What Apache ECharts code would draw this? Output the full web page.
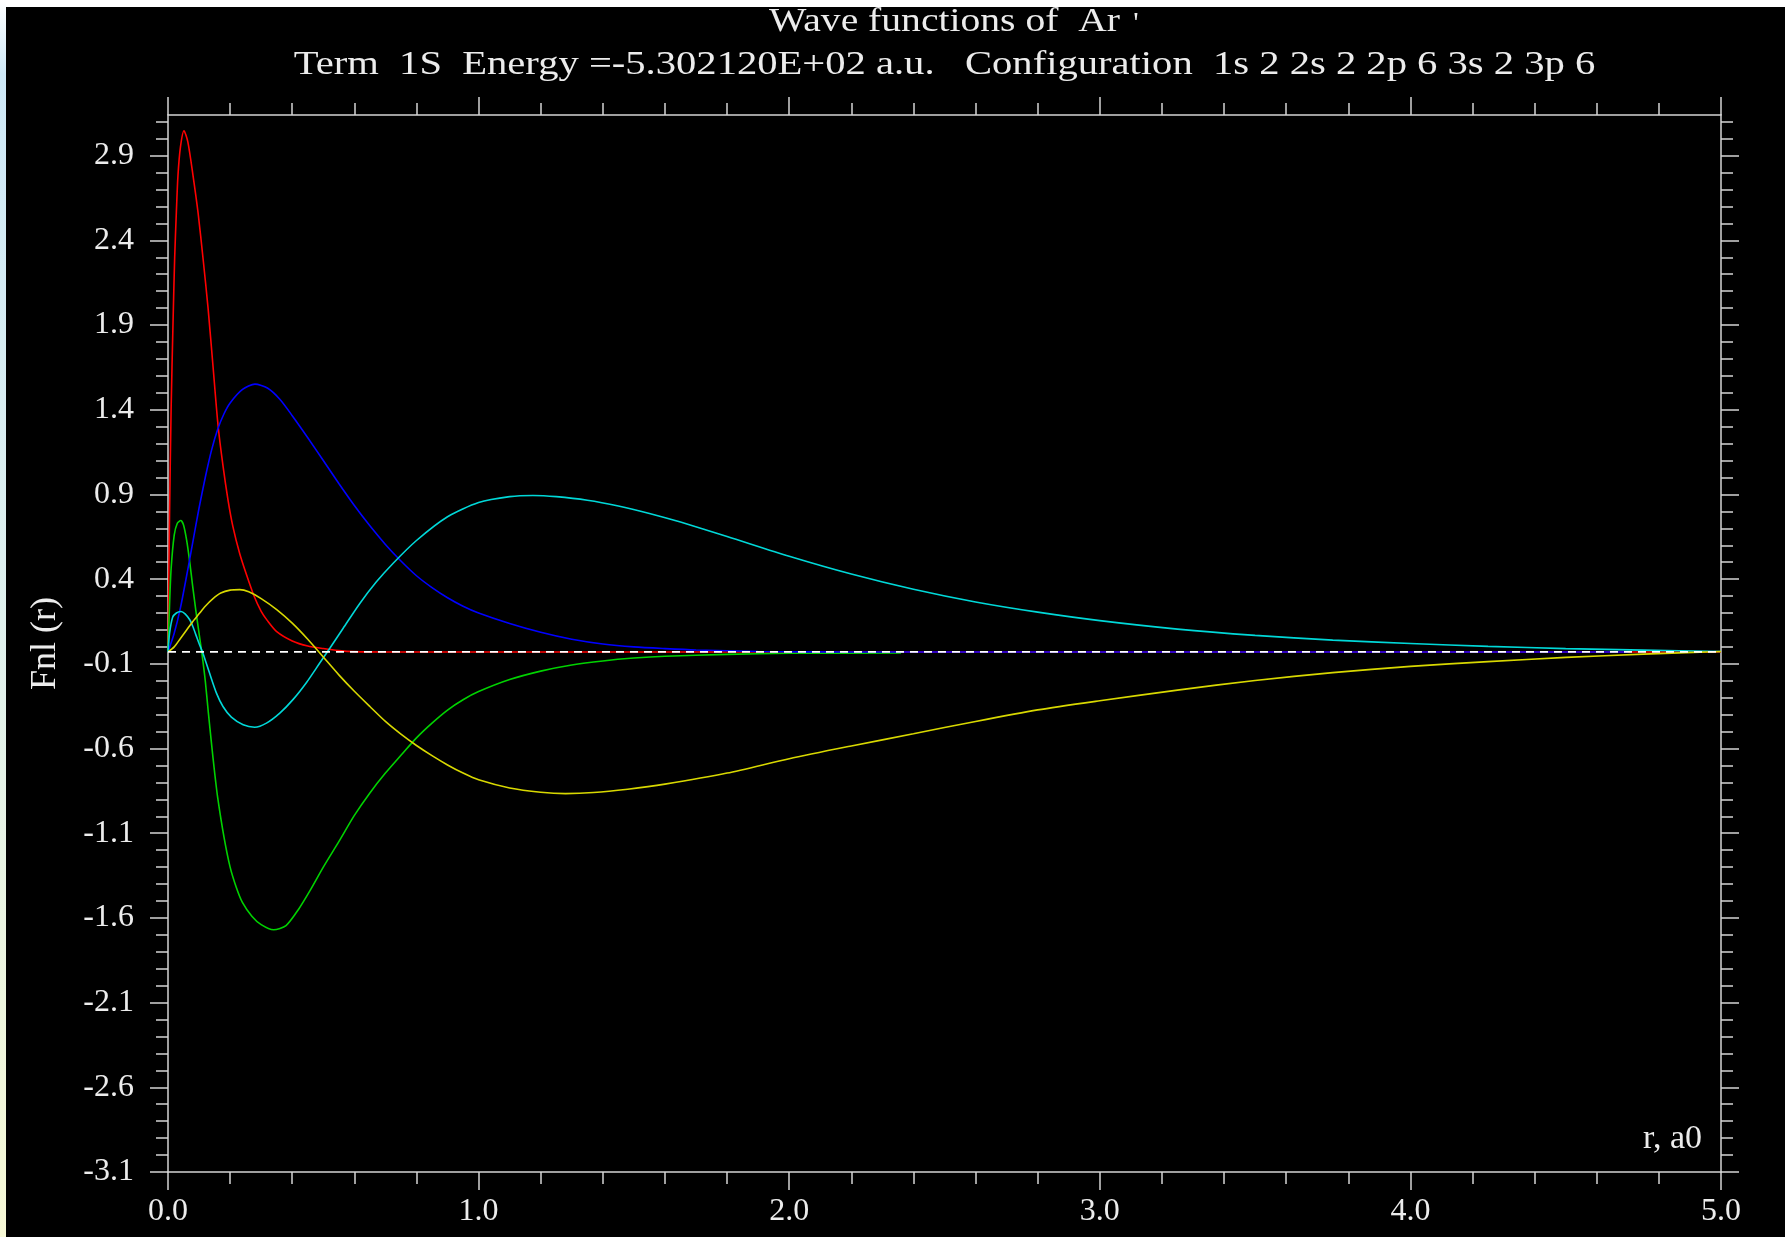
<!DOCTYPE html>
<html>
<head>
<meta charset="utf-8">
<title>Wave functions of Ar</title>
<script src="https://cdn.jsdelivr.net/npm/echarts@6/dist/echarts.min.js"></script>
<style>
  html, body { margin: 0; padding: 0; background: #000; }
  #chart { width: 1785px; height: 1237px; }
</style>
</head>
<body>
<div id="chart"></div>
<script>
// Hartree-Fock radial wave functions Fnl(r) of argon, r in bohr (a0).

const TITLE = 'Wave functions of  Ar';
const TITLE_MARK = "'";
const SUBTITLE = 'Term  1S  Energy =-5.302120E+02 a.u.   Configuration  1s 2 2s 2 2p 6 3s 2 3p 6';
const X_NAME = 'r, a0';
const Y_NAME = 'Fnl (r)';

// axis ticks
const X_TICKS = [0, 1, 2, 3, 4, 5];
const Y_TICKS = [-3.1, -2.6, -2.1, -1.6, -1.1, -0.6, -0.1, 0.4, 0.9, 1.4, 1.9, 2.4, 2.9];
const Y_RANGE = [-3.1, 3.14];

// level of the dashed zero line
const ZERO_LEVEL = -0.03;

// [r, Fnl] samples for each orbital
const F_1s = [
  [0, -0.03], [0.005, 0.78], [0.01, 1.40], [0.016, 1.90], [0.0215, 2.30], [0.027, 2.57],
  [0.032, 2.78], [0.04, 2.95], [0.0515, 3.047], [0.064, 2.98], [0.08, 2.79], [0.097, 2.56],
  [0.113, 2.29], [0.129, 2.00], [0.145, 1.655], [0.161, 1.31], [0.177, 1.07], [0.193, 0.87],
  [0.209, 0.71], [0.231, 0.55], [0.252, 0.43], [0.276, 0.305], [0.30, 0.21], [0.32, 0.155],
  [0.35, 0.09], [0.40, 0.035], [0.45, 0.005], [0.50, -0.01], [0.55, -0.022], [0.60, -0.028],
  [0.70, -0.03], [1.0, -0.03], [2.0, -0.03], [3.0, -0.03], [4.0, -0.03], [5.0, -0.03]
];
const F_2s = [
  [0, -0.03], [0.005, 0.25], [0.01, 0.46], [0.02, 0.66], [0.03, 0.73], [0.041, 0.746],
  [0.05, 0.72], [0.06, 0.63], [0.07, 0.50], [0.08, 0.35], [0.09, 0.21], [0.10, 0.08],
  [0.11, -0.05], [0.12, -0.20], [0.13, -0.39], [0.14, -0.57], [0.15, -0.74], [0.16, -0.89],
  [0.18, -1.12], [0.20, -1.30], [0.22, -1.42], [0.24, -1.51], [0.27, -1.59], [0.30, -1.64],
  [0.34, -1.67], [0.38, -1.645], [0.42, -1.55], [0.46, -1.43], [0.50, -1.30], [0.55, -1.15],
  [0.60, -0.995], [0.65, -0.862], [0.70, -0.745], [0.75, -0.64], [0.80, -0.537], [0.85, -0.45],
  [0.90, -0.373], [0.95, -0.312], [1.0, -0.264], [1.1, -0.193], [1.2, -0.143], [1.3, -0.107],
  [1.4, -0.083], [1.5, -0.066], [1.6, -0.055], [1.8, -0.044], [2.0, -0.038], [2.36, -0.036]
];
const F_2p = [
  [0, -0.03], [0.02, 0.08], [0.04, 0.23], [0.06, 0.42], [0.08, 0.62], [0.10, 0.82],
  [0.12, 1.00], [0.14, 1.16], [0.16, 1.285], [0.18, 1.375], [0.20, 1.44], [0.24, 1.52],
  [0.28, 1.551], [0.32, 1.528], [0.36, 1.462], [0.40, 1.365], [0.45, 1.235], [0.50, 1.10],
  [0.55, 0.965], [0.60, 0.835], [0.65, 0.715], [0.70, 0.605], [0.75, 0.507], [0.80, 0.42],
  [0.85, 0.35], [0.90, 0.29], [0.95, 0.24], [1.0, 0.20], [1.1, 0.138], [1.2, 0.086],
  [1.3, 0.045], [1.4, 0.017], [1.5, 0.0], [1.6, -0.01], [1.7, -0.018], [1.9, -0.027],
  [2.2, -0.03], [3.0, -0.03], [4.0, -0.03], [4.7, -0.03]
];
const F_3s = [
  [0, -0.03], [0.005, 0.08], [0.015, 0.175], [0.027, 0.20], [0.042, 0.209], [0.055, 0.195],
  [0.07, 0.16], [0.08, 0.12], [0.091, 0.065], [0.10, 0.02], [0.113, -0.04], [0.134, -0.156],
  [0.156, -0.273], [0.177, -0.352], [0.204, -0.415], [0.242, -0.46], [0.279, -0.474], [0.317, -0.45],
  [0.36, -0.391], [0.403, -0.31], [0.446, -0.21], [0.488, -0.097], [0.521, -0.008], [0.564, 0.11],
  [0.617, 0.255], [0.671, 0.384], [0.725, 0.494], [0.80, 0.628], [0.90, 0.768], [1.0, 0.852],
  [1.10, 0.887], [1.175, 0.894], [1.25, 0.887], [1.35, 0.866], [1.45, 0.832], [1.55, 0.788],
  [1.65, 0.737], [1.8, 0.652], [2.0, 0.535], [2.2, 0.43], [2.4, 0.34], [2.6, 0.265],
  [2.8, 0.205], [3.0, 0.155], [3.25, 0.105], [3.5, 0.068], [3.75, 0.04], [4.0, 0.02],
  [4.25, 0.003], [4.5, -0.01], [4.75, -0.019], [5.0, -0.027]
];
const F_3p = [
  [0, -0.03], [0.02, 0.0], [0.04, 0.05], [0.06, 0.10], [0.08, 0.15], [0.10, 0.195],
  [0.12, 0.24], [0.145, 0.285], [0.17, 0.318], [0.20, 0.335], [0.231, 0.338], [0.26, 0.325],
  [0.30, 0.285], [0.35, 0.22], [0.40, 0.14], [0.45, 0.045], [0.50, -0.06], [0.55, -0.165],
  [0.60, -0.262], [0.65, -0.352], [0.70, -0.44], [0.75, -0.515], [0.80, -0.582], [0.85, -0.642],
  [0.90, -0.697], [0.95, -0.745], [1.0, -0.785], [1.1, -0.833], [1.2, -0.858], [1.28, -0.866],
  [1.37, -0.86], [1.48, -0.84], [1.6, -0.81], [1.8, -0.745], [2.0, -0.66], [2.2, -0.585],
  [2.4, -0.513], [2.6, -0.44], [2.8, -0.372], [3.0, -0.318], [3.25, -0.255], [3.5, -0.198],
  [3.75, -0.152], [4.0, -0.115], [4.25, -0.087], [4.5, -0.062], [4.75, -0.043], [5.0, -0.027]
];

const ORBITALS = [
  { name: '1s', data: F_1s, color: '#ff0000' },
  { name: '2s', data: F_2s, color: '#00d200' },
  { name: '2p', data: F_2p, color: '#0000ff' },
  { name: '3s', data: F_3s, color: '#00d8d8' },
  { name: '3p', data: F_3p, color: '#d8d800' }
];

// minor ticks every 0.1 between the labelled ones
const Y_MINOR = [];
for (let k = 1; k < 63; k++) {
  const v = Math.round((Y_TICKS[0] + 0.1 * k) * 10) / 10;
  if (v < Y_RANGE[1] && Y_TICKS.indexOf(v) < 0) Y_MINOR.push(v);
}

const FONT = '"Liberation Serif", "Times New Roman", serif';
const INK = '#ececec';
const AXIS = '#d4d4d4';
const line = { color: AXIS, width: 1.5 };

function xAxisDef(position, withLabels) {
  return {
    type: 'value', position: position,
    min: X_TICKS[0], max: X_TICKS[X_TICKS.length - 1], interval: X_TICKS[1] - X_TICKS[0],
    axisLine: { show: true, onZero: false, lineStyle: line },
    axisTick: { show: true, inside: false, length: 18, lineStyle: line },
    minorTick: { show: true, splitNumber: 5, length: 12, lineStyle: line },
    splitLine: { show: false }, minorSplitLine: { show: false },
    axisLabel: {
      show: withLabels, color: INK, fontFamily: FONT, fontSize: 32, margin: 24,
      formatter: v => v.toFixed(1)
    },
    name: withLabels ? X_NAME : '',
    nameLocation: 'end', nameGap: -19,
    nameTextStyle: {
      color: INK, fontFamily: FONT, fontSize: 34,
      align: 'right', verticalAlign: 'bottom', padding: [0, 0, 16, 0]
    }
  };
}

function yAxisDef(position, values, tickLen, withLine, withLabels) {
  return {
    type: 'value', position: position,
    min: Y_RANGE[0], max: Y_RANGE[1],
    axisLine: { show: withLine, onZero: false, lineStyle: line },
    axisTick: { show: true, inside: false, length: tickLen, customValues: values, lineStyle: line },
    minorTick: { show: false },
    splitLine: { show: false },
    axisLabel: {
      show: withLabels, customValues: values, color: INK, fontFamily: FONT, fontSize: 32, margin: 34,
      formatter: v => v.toFixed(1)
    },
    name: withLabels ? Y_NAME : '',
    nameLocation: 'middle', nameGap: 104, nameRotate: 90,
    nameTextStyle: { color: INK, fontFamily: FONT, fontSize: 36 }
  };
}

const series = ORBITALS.map((o, i) => ({
  name: o.name,
  type: 'line',
  data: o.data,
  smooth: 0.25,
  showSymbol: false,
  symbol: 'none',
  silent: true,
  z: 2 + i * 0.1,
  lineStyle: { color: o.color, width: 1.6 }
}));

series.push({
  name: 'zero',
  type: 'line',
  data: [[X_TICKS[0], ZERO_LEVEL], [X_TICKS[X_TICKS.length - 1], ZERO_LEVEL]],
  showSymbol: false,
  symbol: 'none',
  silent: true,
  z: 5,
  lineStyle: { color: '#ffffff', width: 1.8, type: [8, 6] }
});

const chart = echarts.init(document.getElementById('chart'), null, { renderer: 'canvas' });
chart.setOption({
  animation: false,
  backgroundColor: '#000000',
  grid: { left: 168, right: 64, top: 115, bottom: 65, containLabel: false, outerBoundsMode: 'none' },
  xAxis: [xAxisDef('bottom', true), xAxisDef('top', false)],
  yAxis: [
    yAxisDef('left', Y_TICKS, 18, true, true),
    yAxisDef('left', Y_MINOR, 12, false, false),
    yAxisDef('right', Y_TICKS, 18, true, false),
    yAxisDef('right', Y_MINOR, 12, false, false)
  ],
  series: series,
  graphic: [
    { type: 'rect', silent: true, z: 0, shape: { x: 0, y: 0, width: 1785, height: 7 }, style: { fill: '#ffffff' } },
    {
      type: 'rect', silent: true, z: 0, shape: { x: 0, y: 0, width: 6, height: 1237 },
      style: {
        fill: new echarts.graphic.LinearGradient(0, 0, 0, 1, [
          { offset: 0, color: '#ffffff' },
          { offset: 0.06, color: '#cfe9f8' },
          { offset: 0.5, color: '#e0f1ee' },
          { offset: 1, color: '#f7f9d6' }
        ])
      }
    },
    {
      type: 'text', silent: true, z: 10, x: 944.5, y: 22, scaleX: 1.2,
      style: { text: TITLE, font: '33px ' + FONT, fill: INK, align: 'center', verticalAlign: 'middle' }
    },
    {
      type: 'text', silent: true, z: 10, x: 1136, y: 9,
      style: { text: TITLE_MARK, font: '30px ' + FONT, fill: INK, align: 'center', verticalAlign: 'top' }
    },
    {
      type: 'text', silent: true, z: 10, x: 944.5, y: 65, scaleX: 1.23,
      style: { text: SUBTITLE, font: '33px ' + FONT, fill: INK, align: 'center', verticalAlign: 'middle' }
    }
  ]
});
</script>
</body>
</html>
